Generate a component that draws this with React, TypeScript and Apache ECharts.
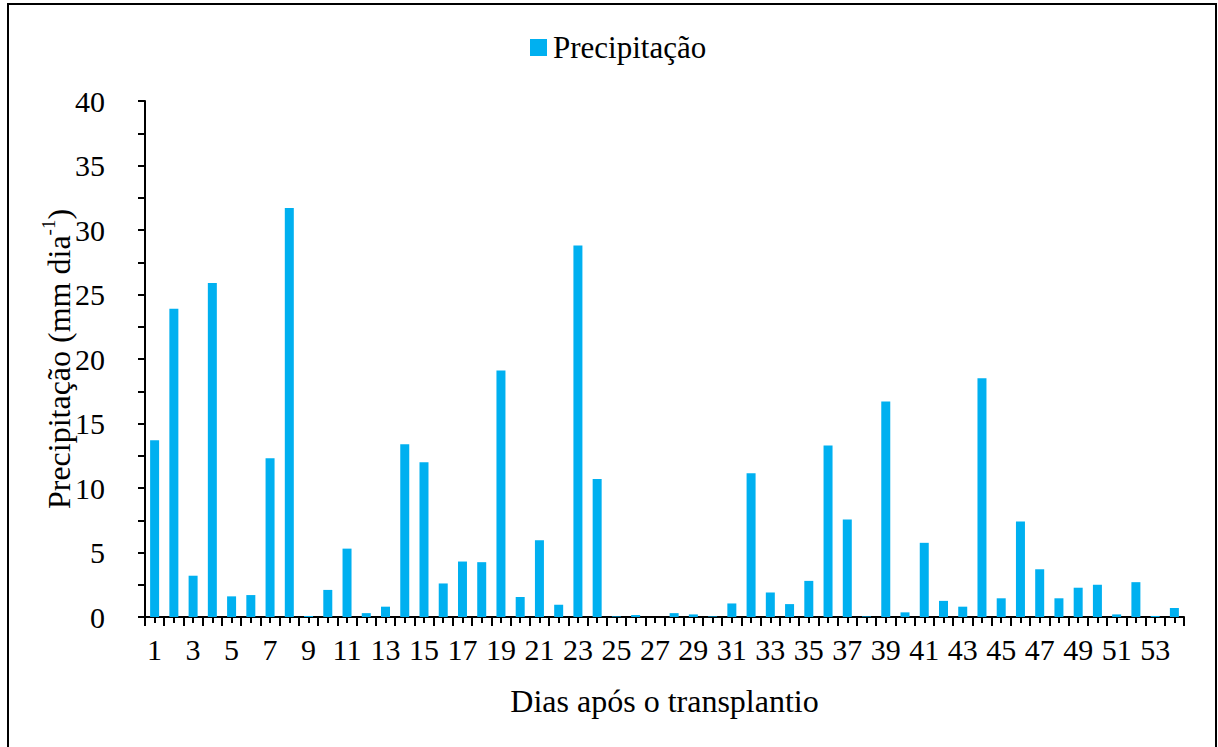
import React, { useEffect, useRef } from "react";
import * as echarts from "echarts";

const days: string[] = Array.from({ length: 54 }, (_, i) => String(i + 1));
const precipitation: number[] = [
  13.7, 23.9, 3.2, 25.9, 1.6, 1.7, 12.3, 31.7, 0.08, 2.1,
  5.3, 0.3, 0.8, 13.4, 12.0, 2.6, 4.3, 4.25, 19.1, 1.55,
  5.95, 0.95, 28.8, 10.7, 0.05, 0.15, 0, 0.3, 0.2, 0.05,
  1.05, 11.15, 1.9, 1.0, 2.8, 13.3, 7.55, 0.05, 16.7, 0.36,
  5.75, 1.25, 0.8, 18.5, 1.45, 7.4, 3.7, 1.45, 2.27, 2.5,
  0.2, 2.7, 0.08, 0.7,
];
const seriesName = "Precipitação";
const xTitle = "Dias após o transplantio";

const FONT = '"Liberation Serif", "Times New Roman", serif';

export default function App() {
  const ref = useRef<HTMLDivElement>(null);
  useEffect(() => {
    if (!ref.current) return;
    const chart = echarts.init(ref.current, null, { renderer: "svg" });
    chart.setOption({
      animation: false,
      backgroundColor: "#ffffff",
      textStyle: { fontFamily: FONT, color: "#000" },
      graphic: [
        {
          type: "rect",
          shape: { x: 8, y: 4, width: 1208, height: 780 },
          style: { fill: "none", stroke: "#000", lineWidth: 2 },
          silent: true,
        },
      ],
      legend: {
        top: 27,
        left: 525,
        icon: "rect",
        itemWidth: 17,
        itemHeight: 17,
        textStyle: { fontFamily: FONT, fontSize: 31, color: "#000", padding: [0, 0, 0, 1] },
        data: [seriesName],
      },
      grid: { left: 145, right: 34, top: 101, bottom: 130, containLabel: false },
      xAxis: [
        {
          type: "category",
          data: days,
          position: "bottom",
          name: xTitle,
          nameLocation: "middle",
          nameGap: 68,
          nameTextStyle: { fontFamily: FONT, fontSize: 32, color: "#000" },
          axisLine: { show: true, lineStyle: { color: "#000", width: 2 } },
          axisTick: { show: true, alignWithLabel: false, interval: 0, length: 9, lineStyle: { color: "#000", width: 2 } },
          axisLabel: { interval: 1, fontFamily: FONT, fontSize: 30, color: "#000", margin: 17 },
          splitLine: { show: false },
        },
        {
          type: "category",
          data: days,
          position: "bottom",
          axisLine: { show: false },
          axisTick: { show: true, alignWithLabel: true, interval: 0, length: 6, lineStyle: { color: "#000", width: 2 } },
          axisLabel: { show: false },
          splitLine: { show: false },
        },
      ],
      yAxis: {
        type: "value",
        min: 0,
        max: 40,
        interval: 5,
        name: "{a|Precipitação (mm dia}{s|-1}{a|)}",
        nameLocation: "middle",
        nameGap: 70,
        nameRotate: 90,
        nameMoveOverlap: false,
        nameTextStyle: {
          fontFamily: FONT,
          color: "#000",
          rich: {
            a: { fontFamily: FONT, fontSize: 32, color: "#000", lineHeight: 36, verticalAlign: "bottom" },
            s: { fontFamily: FONT, fontSize: 19, color: "#000", lineHeight: 36, verticalAlign: "top", padding: [0, 0, 12, 0] },
          },
        },
        axisLine: { show: true, lineStyle: { color: "#000", width: 2 } },
        axisTick: { show: true, length: 7, lineStyle: { color: "#000", width: 2 } },
        minorTick: { show: true, splitNumber: 2, length: 7, lineStyle: { color: "#000", width: 2 } },
        axisLabel: { fontFamily: FONT, fontSize: 30, color: "#000", margin: 40 },
        splitLine: { show: false },
        minorSplitLine: { show: false },
      },
      series: [
        {
          name: seriesName,
          type: "bar",
          xAxisIndex: 0,
          data: precipitation,
          barWidth: 9,
          itemStyle: { color: "#00B0F0" },
        },
      ],
    });
    return () => chart.dispose();
  }, []);
  return (
    <div
      ref={ref}
      style={{ position: "fixed", left: 0, top: 0, width: 1218, height: 747 }}
    />
  );
}
